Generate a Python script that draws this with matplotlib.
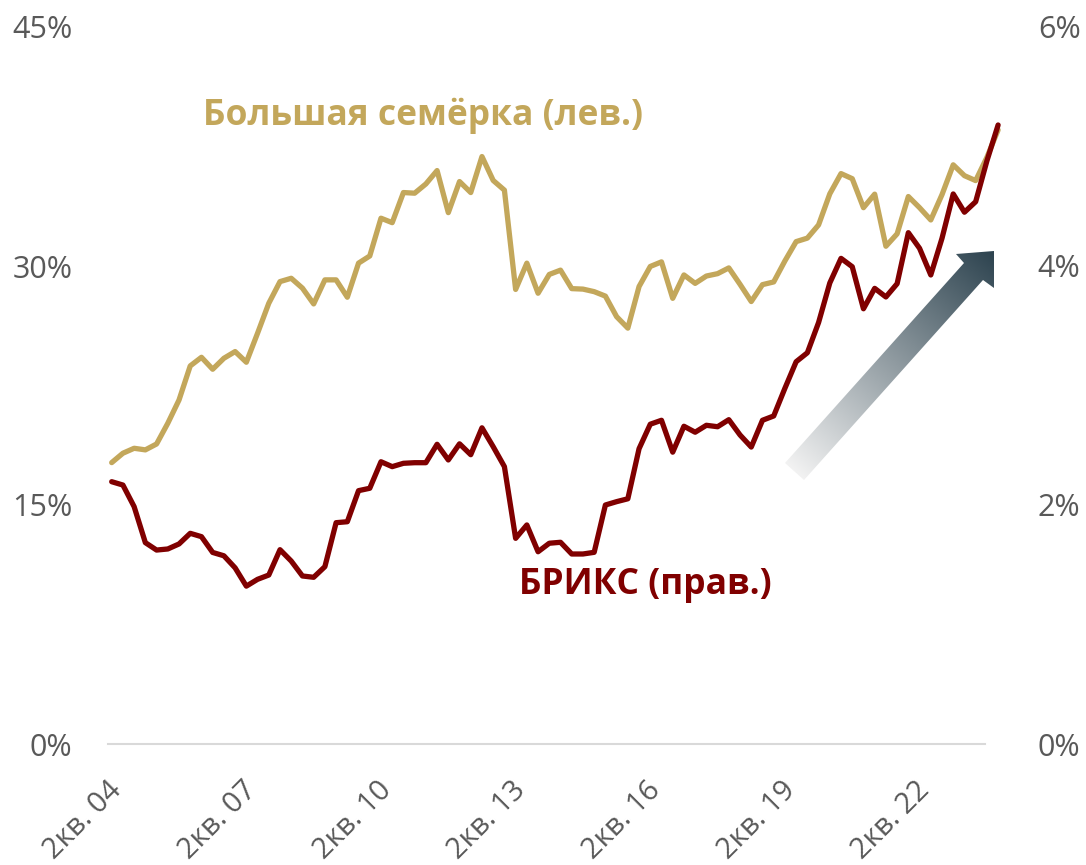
import numpy as np
import matplotlib.pyplot as plt
import matplotlib.transforms as mtransforms
from matplotlib.patches import Polygon
from matplotlib.colors import LinearSegmentedColormap

plt.rcParams['font.family'] = ['Open Sans', 'DejaVu Sans']

# share of world, %, quarterly from 2Q 2004
g7 = [17.66, 18.25, 18.56, 18.46, 18.83, 20.13, 21.59, 23.73, 24.27, 23.52,
      24.21, 24.63, 23.96, 25.78, 27.66, 29.02, 29.23, 28.61, 27.62, 29.13,
      29.13, 28.04, 30.18, 30.63, 33.00, 32.72, 34.61, 34.57, 35.15, 35.99,
      33.35, 35.30, 34.61, 36.87, 35.37, 34.76, 28.53, 30.18, 28.29, 29.47,
      29.74, 28.58, 28.55, 28.39, 28.11, 26.82, 26.10, 28.71, 29.97, 30.26,
      27.97, 29.44, 28.91, 29.37, 29.52, 29.88, 28.85, 27.77, 28.83, 29.00,
      30.32, 31.53, 31.75, 32.58, 34.53, 35.80, 35.48, 33.66, 34.51, 31.24,
      32.02, 34.36, 33.66, 32.89, 34.48, 36.35, 35.67, 35.36, 36.82, 38.54]

brics = [2.195, 2.167, 1.986, 1.685, 1.623, 1.632, 1.674, 1.763, 1.735, 1.603,
         1.575, 1.474, 1.321, 1.378, 1.414, 1.626, 1.531, 1.406, 1.395, 1.484,
         1.852, 1.860, 2.120, 2.140, 2.362, 2.321, 2.349, 2.354, 2.354, 2.508,
         2.377, 2.512, 2.421, 2.646, 2.488, 2.321, 1.721, 1.833, 1.609, 1.680,
         1.688, 1.590, 1.590, 1.604, 2.000, 2.028, 2.052, 2.471, 2.676, 2.709,
         2.442, 2.659, 2.609, 2.667, 2.655, 2.714, 2.586, 2.485, 2.709, 2.745,
         2.977, 3.199, 3.274, 3.527, 3.858, 4.064, 3.994, 3.642, 3.813, 3.741,
         3.852, 4.279, 4.148, 3.925, 4.232, 4.603, 4.450, 4.538, 4.879, 5.180]

tick_pos = [0, 12, 24, 36, 48, 60, 72]
tick_labels = ['2кв. 04', '2кв. 07', '2кв. 10', '2кв. 13', '2кв. 16', '2кв. 19', '2кв. 22']

GOLD = '#C3A75B'
RED = '#800000'
GREY = '#595959'

fig = plt.figure(figsize=(10.86, 8.65), dpi=100)
ax = fig.add_axes([103 / 1086, 121 / 865, 907 / 1086, 717 / 865])
ax2 = ax.twinx()

x = np.arange(len(g7))
ax.plot(x, g7, color=GOLD, lw=3.8, solid_joinstyle='round', solid_capstyle='round')
ax2.plot(x, brics, color=RED, lw=3.8, solid_joinstyle='round', solid_capstyle='round')

ax.set_xlim(-0.775, 80.06)
ax.set_ylim(0, 45)
ax2.set_ylim(0, 6)

ax.set_yticks([0, 15, 30, 45])
ax.set_yticklabels(['0%', '15%', '30%', '45%'])
ax2.set_yticks([0, 2, 4, 6])
ax2.set_yticklabels(['0%', '2%', '4%', '6%'])
ax.set_xticks(tick_pos)
ax.set_xticklabels(tick_labels, rotation=45, ha='right', va='center', rotation_mode='anchor')

for a in (ax, ax2):
    for s in a.spines.values():
        s.set_visible(False)
    a.tick_params(length=0, labelsize=22, labelcolor=GREY)
ax.tick_params(axis='y', pad=22)
ax2.tick_params(axis='y', pad=20)
ax.tick_params(axis='x', pad=30, labelsize=21)
shift = mtransforms.ScaledTranslation(6 / 100, 0, fig.dpi_scale_trans)
for lbl in ax.get_xticklabels():
    lbl.set_transform(lbl.get_transform() + shift)

ax.axhline(0, xmin=0.005, xmax=0.9725, color='#D9D9D9', lw=1.5, zorder=0, clip_on=False)

ax.text(8.14, 39.45, 'Большая семёрка (лев.)', color=GOLD, fontsize=25.5,
        fontweight='bold', va='center', ha='left')
ax.text(36.3, 10.0, 'БРИКС (прав.)', color=RED, fontsize=25.5,
        fontweight='bold', va='center', ha='left')

# gradient arrow, drawn in pixel space on an overlay
ov = fig.add_axes([0, 0, 1, 1])
ov.set_xlim(0, 1086)
ov.set_ylim(865, 0)
ov.axis('off')
arrow_pts = [(785, 463), (964, 263), (956, 254), (994, 251), (994, 288), (983, 280), (804, 480)]
patch = Polygon(arrow_pts, closed=True, facecolor='none', edgecolor='none')
ov.add_patch(patch)
gx, gy = np.meshgrid(np.linspace(780, 1000, 300), np.linspace(245, 490, 300))
dx, dy = 993 - 794.5, 252 - 471.5
t = ((gx - 794.5) * dx + (gy - 471.5) * dy) / (dx * dx + dy * dy)
t = np.clip(t, 0, 1)
cmap = LinearSegmentedColormap.from_list('arr', ['#F2F2F2', '#2E4450'])
im = ov.imshow(t, extent=(780, 1000, 490, 245), cmap=cmap, origin='upper',
               aspect='auto', vmin=0, vmax=1)
im.set_clip_path(patch)
ov.set_xlim(0, 1086)
ov.set_ylim(865, 0)

fig.savefig('out.png', dpi=100)
